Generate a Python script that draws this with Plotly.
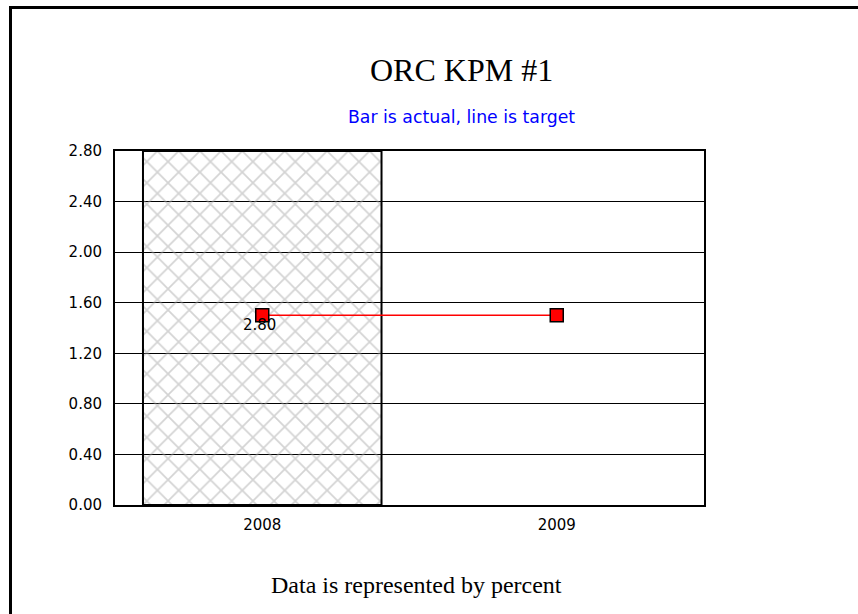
import plotly.graph_objects as go

# Data
years = ["2008", "2009"]
actual = [2.80]            # bar value (only 2008 has an actual)
target = [1.50, 1.50]      # line target values
y_ticks = [0.0, 0.4, 0.8, 1.2, 1.6, 2.0, 2.4, 2.8]

title_text = "ORC KPM #1"
subtitle_text = "Bar is actual, line is target"
footer_text = "Data is represented by percent"

W, H = 858, 614
ML, MR, MT, MB = 115, 154, 151, 109
PW = W - ML - MR
PH = H - MT - MB

def px_x(p):
    return (p - ML) / PW

def px_y(p):
    return (H - MB - p) / PH

fig = go.Figure()

fig.add_trace(go.Bar(
    x=years[:len(actual)],
    y=actual,
    marker=dict(
        color="rgba(255,255,255,0)",
        line=dict(color="black", width=2),
        pattern=dict(shape="x", fgcolor="#a8a8a8", bgcolor="rgba(255,255,255,0)",
                     size=15, solidity=0.22),
    ),
    showlegend=False,
    hoverinfo="skip",
))

fig.add_trace(go.Scatter(
    x=years,
    y=target,
    mode="lines+markers",
    line=dict(color="#ff0000", width=1.5),
    marker=dict(symbol="square", size=13, color="#ff0000",
                line=dict(color="black", width=1.5)),
    showlegend=False,
))

# value label of the bar, positioned just under the first target marker
fig.add_annotation(
    x=0, y=target[0], xref="x", yref="y",
    text=f"{actual[0]:.2f}", showarrow=False,
    yshift=-10, xshift=-3,
    font=dict(family="DejaVu Sans", size=15, color="black"),
)

fig.add_annotation(
    x=px_x(461), y=px_y(70), xref="paper", yref="paper",
    text=title_text, showarrow=False, xanchor="center", yanchor="middle",
    font=dict(family="Liberation Serif", size=32, color="black"),
)
fig.add_annotation(
    x=px_x(461), y=px_y(117), xref="paper", yref="paper",
    text=subtitle_text, showarrow=False, xanchor="center", yanchor="middle",
    font=dict(family="DejaVu Sans", size=17.3, color="#0000ff"),
)
fig.add_annotation(
    x=px_x(416), y=px_y(585), xref="paper", yref="paper",
    text=footer_text, showarrow=False, xanchor="center", yanchor="middle",
    font=dict(family="Liberation Serif", size=24, color="black"),
)

# outer frame (left and top edges)
fig.add_shape(type="line", xref="paper", yref="paper",
              x0=px_x(10.5), x1=px_x(10.5), y0=px_y(6), y1=px_y(620),
              line=dict(color="black", width=3))
fig.add_shape(type="line", xref="paper", yref="paper",
              x0=px_x(9), x1=px_x(870), y0=px_y(7.5), y1=px_y(7.5),
              line=dict(color="black", width=3))

fig.update_layout(
    width=W, height=H,
    margin=dict(l=ML, r=MR, t=MT, b=MB, pad=0),
    paper_bgcolor="white",
    plot_bgcolor="white",
    bargap=0.19,
    showlegend=False,
)

fig.update_xaxes(
    type="category",
    categoryorder="array", categoryarray=years,
    range=[-0.5, len(years) - 0.5], autorange=False,
    showline=True, linecolor="black", linewidth=2, mirror=True,
    showgrid=False, ticks="",
    ticklabelstandoff=5,
    tickfont=dict(family="DejaVu Sans", size=15, color="black"),
)
fig.update_yaxes(
    range=[0, 2.8], autorange=False,
    tickvals=y_ticks,
    ticktext=[f"{v:.2f}" for v in y_ticks],
    showline=True, linecolor="black", linewidth=2, mirror=True,
    showgrid=True, gridcolor="black", gridwidth=1,
    zeroline=False, ticks="",
    ticklabelstandoff=8,
    tickfont=dict(family="DejaVu Sans", size=15, color="black"),
)

fig.write_html(
    "out.html",
    config={"displayModeBar": False},
    post_script="document.body.style.margin='0';document.body.style.overflow='hidden';",
)
